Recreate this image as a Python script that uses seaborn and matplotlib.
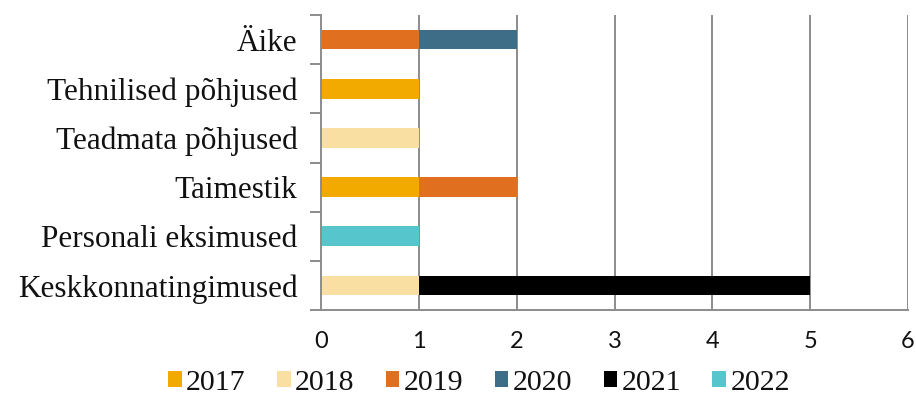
import numpy as np
import pandas as pd
import matplotlib
matplotlib.use("Agg")
import matplotlib.pyplot as plt
from matplotlib.patches import Patch
from matplotlib.ticker import FixedLocator
import seaborn as sns

categories = ["Äike", "Tehnilised põhjused", "Teadmata põhjused", "Taimestik",
              "Personali eksimused", "Keskkonnatingimused"]
years = ["2017", "2018", "2019", "2020", "2021", "2022"]
v2017 = [0, 1, 0, 1, 0, 0]
v2018 = [0, 0, 1, 0, 0, 1]
v2019 = [1, 0, 0, 1, 0, 0]
v2020 = [1, 0, 0, 0, 0, 0]
v2021 = [0, 0, 0, 0, 0, 4]
v2022 = [0, 0, 0, 0, 1, 0]
colors = ["#F2A900", "#F9DFA2", "#E0701F", "#3E6D88", "#000000", "#56C5CC"]

df = pd.DataFrame({"kategooria": categories, "2017": v2017, "2018": v2018,
                   "2019": v2019, "2020": v2020, "2021": v2021, "2022": v2022})
cum = df[years].cumsum(axis=1)

sns.set_style("white")
fig = plt.figure(figsize=(9.16, 4.09), dpi=100)
ax = fig.add_axes([321/916, 1-310/409, (908-321)/916, (310-15)/409])

grid_c = "#8C8C8C"
for x in range(1, 7):
    ax.axvline(x, color=grid_c, lw=1.4, zorder=0)

for y, c in reversed(list(zip(years, colors))):
    sns.barplot(x=cum[y].values, y=df["kategooria"], order=categories, orient="h",
                color=c, saturation=1, width=0.4, linewidth=0, ax=ax, zorder=2)

ax.set_xlim(0, 6)
ax.set_ylim(5.5, -0.5)
ax.set_xlabel("")
ax.set_ylabel("")
ax.set_xticks(range(0, 7))
for s in ["top", "right"]:
    ax.spines[s].set_visible(False)
for s in ["left", "bottom"]:
    ax.spines[s].set_visible(True)
    ax.spines[s].set_color(grid_c)
    ax.spines[s].set_linewidth(1.4)

ax.tick_params(axis="x", which="major", direction="out", length=6, width=1.4,
               color=grid_c, pad=9, labelsize=17, labelcolor="#111111")
for lab in ax.get_xticklabels():
    lab.set_fontfamily("Lato")
ax.tick_params(axis="y", which="major", length=0, pad=17, labelsize=22.5,
               labelcolor="#111111")
for lab in ax.get_yticklabels():
    lab.set_fontfamily("Liberation Serif")
ax.yaxis.set_minor_locator(FixedLocator(np.arange(-0.5, 6.0, 1.0)))
ax.tick_params(axis="y", which="minor", direction="out", length=8, width=1.4,
               color=grid_c, left=True)

handles = [Patch(facecolor=c, edgecolor="none", label=y) for y, c in zip(years, colors)]
leg = fig.legend(handles=handles, loc="center", bbox_to_anchor=(479/916, 1-383/409),
                 ncol=6, frameon=False, handlelength=0.45, handleheight=0.45,
                 handletextpad=0.15, columnspacing=1.05,
                 prop={"family": "Liberation Serif", "size": 21.5})
for t in leg.get_texts():
    t.set_color("#111111")

fig.savefig("out.png", dpi=100)
